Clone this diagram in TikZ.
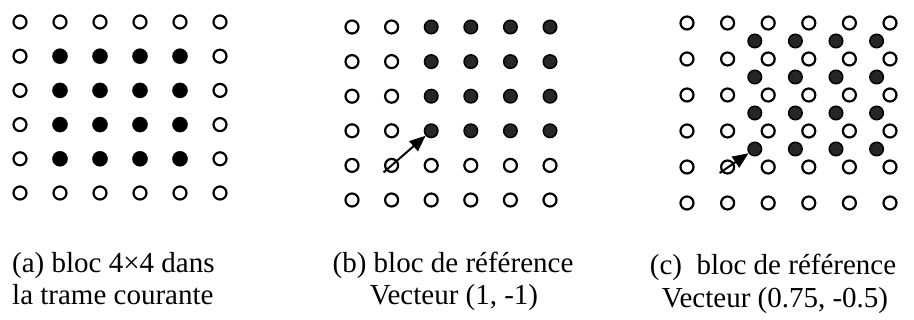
\documentclass[tikz,border=0pt]{standalone}
\usepackage{fontspec}
\setmainfont{Liberation Serif}
\usetikzlibrary{calc,arrows.meta}
\begin{document}
\begin{tikzpicture}[x=1pt,y=-1pt,
  opendot/.style={circle,draw=black,line width=2.2pt,minimum size=13pt,inner sep=0pt,fill=white},
  blackdot/.style={circle,fill=black,draw=black,line width=0.5pt,minimum size=15pt,inner sep=0pt},
  greydot/.style={circle,fill=black!85,draw=black,line width=1.5pt,minimum size=13.5pt,inner sep=0pt},
  mvarrow/.style={line width=2pt,-{Triangle[length=16pt,width=13pt]}},
  caption/.style={inner sep=0pt,font=\fontsize{29}{33}\selectfont}]
\useasboundingbox (0,0) rectangle (914,320);
% panel (a)
\foreach \i in {0,...,5}{
  \foreach \j in {0,...,5}{
    \pgfmathsetmacro\xx{20+40*\i}
    \pgfmathsetmacro\yy{22+34.2*\j}
    \ifnum\i>0 \ifnum\i<5 \ifnum\j>0 \ifnum\j<5
      \node[blackdot] (a-\i-\j) at (\xx,\yy) {};
    \else \node[opendot] (a-\i-\j) at (\xx,\yy) {}; \fi
    \else \node[opendot] (a-\i-\j) at (\xx,\yy) {}; \fi
    \else \node[opendot] (a-\i-\j) at (\xx,\yy) {}; \fi
    \else \node[opendot] (a-\i-\j) at (\xx,\yy) {}; \fi
  }}
% panel (b)
\foreach \i in {0,...,5}{
  \foreach \j in {0,...,5}{
    \pgfmathsetmacro\xx{352+39.6*\i}
    \pgfmathsetmacro\yy{27+34.6*\j}
    \ifnum\i>1 \ifnum\j<4
      \node[greydot] (b-\i-\j) at (\xx,\yy) {};
    \else \node[opendot] (b-\i-\j) at (\xx,\yy) {}; \fi
    \else \node[opendot] (b-\i-\j) at (\xx,\yy) {}; \fi
  }}
% panel (c)
\foreach \i in {0,...,5}{
  \foreach \j in {0,...,5}{
    \pgfmathsetmacro\xx{687+40.6*\i}
    \pgfmathsetmacro\yy{23+36*\j}
    \node[opendot] (c-\i-\j) at (\xx,\yy) {};
  }}
\foreach \i in {1,...,4}{
  \foreach \j in {1,...,4}{
    \pgfmathsetmacro\xx{687+40.6*(\i+0.67)}
    \pgfmathsetmacro\yy{23+36*(\j-0.5)}
    \node[greydot] (cf-\i-\j) at (\xx,\yy) {};
  }}
% motion vectors
\coordinate (bs) at ($(b-1-4)+(-8,7)$);
\draw[mvarrow] (bs) -- (b-2-3);
\coordinate (cs) at ($(c-1-4)+(-8,6)$);
\draw[mvarrow] (cs) -- (cf-1-4);
% captions
\node[caption,anchor=base west] (capa1) at (12,273) {(a) bloc 4×4 dans};
\node[caption,anchor=base west] (capa2) at (12,305) {la trame courante};
\node[caption,anchor=base] (capb1) at (453,273) {(b) bloc de référence};
\node[caption,anchor=base] (capb2) at (454,305) {Vecteur (1, -1)};
\node[caption,anchor=base] (capc1) at (773,275) {(c)~\ bloc de référence};
\node[caption,anchor=base] (capc2) at (775,308) {Vecteur (0.75, -0.5)};
\end{tikzpicture}
\end{document}
